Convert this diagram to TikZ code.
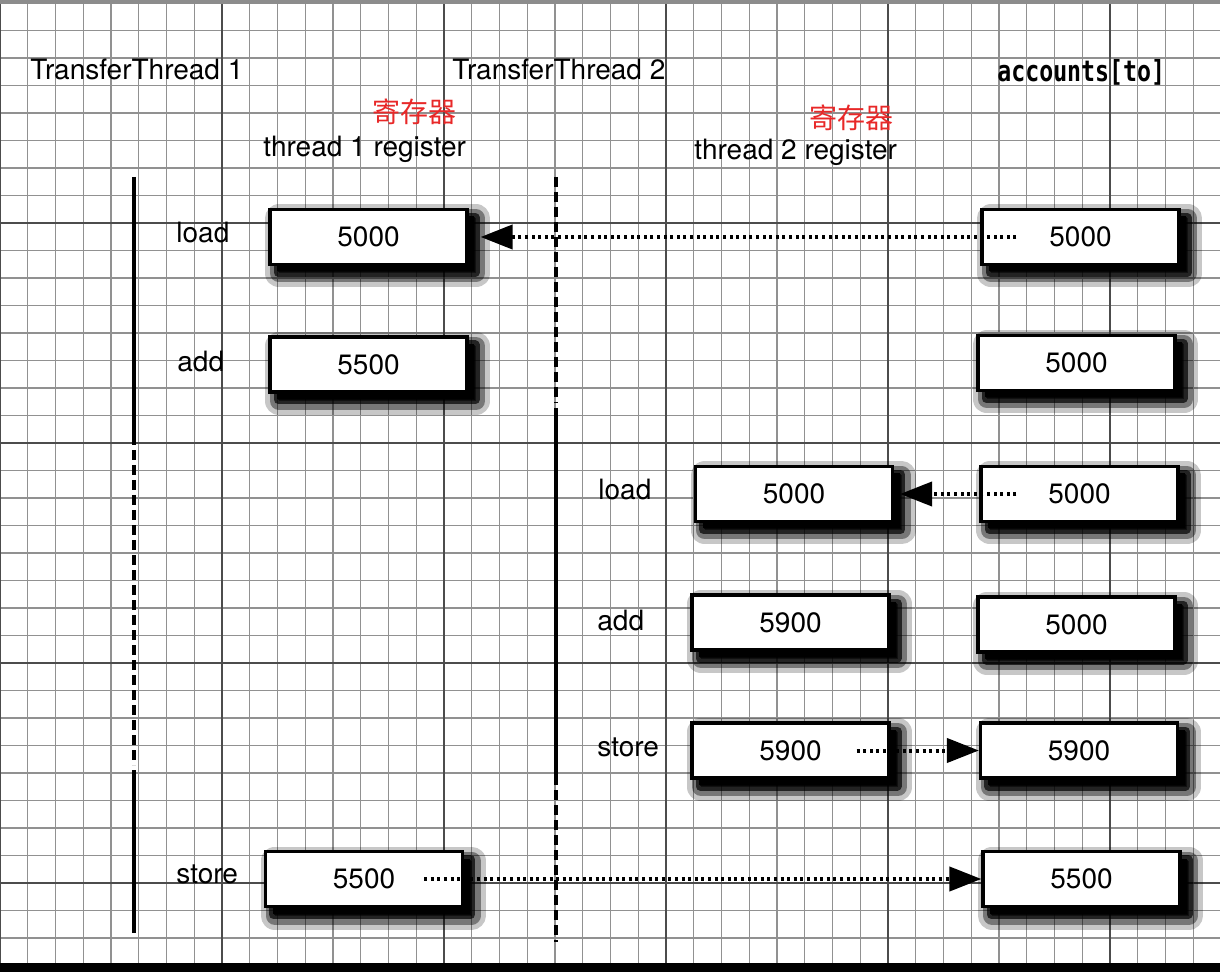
\documentclass[tikz,border=0pt]{standalone}
\usepackage{fontspec}
\setmainfont{TeX Gyre Heros}
\newfontfamily\cjkfont{Noto Sans CJK SC}
\newfontfamily\acctfont{DejaVu Sans Mono}
\usetikzlibrary{arrows.meta,calc,positioning,shadows}
\definecolor{notered}{RGB}{232,40,40}
\definecolor{gridgray}{RGB}{145,145,145}
\tikzset{
  gridminor/.style={gridgray,line width=0.55pt},
  gridmajor/.style={black!70,line width=0.7pt},
  fuzzshadow/.style={
    general shadow={shadow xshift=4.5pt,shadow yshift=-4.5pt,draw=black,fill=black,line width=14pt,line join=round,opacity=0.22},
    general shadow={shadow xshift=4.5pt,shadow yshift=-4.5pt,draw=black,fill=black,line width=9pt,line join=round,opacity=0.4},
    general shadow={shadow xshift=4pt,shadow yshift=-4pt,draw=black,fill=black,line width=4.5pt,line join=round,opacity=0.7},
    general shadow={shadow xshift=3.5pt,shadow yshift=-3.5pt,fill=black,opacity=1}},
  valbox/.style={draw,line width=1.6pt,fill=white,minimum width=98.5pt,minimum height=27.5pt,fuzzshadow},
  oplabel/.style={anchor=base west,inner sep=0pt},
  cnlabel/.style={text=notered,font=\cjkfont\fontsize{14}{16}\selectfont},
  lifeline/.style={line width=1.6pt},
  idle/.style={line width=1.8pt,dash pattern=on 5pt off 2.5pt},
  copyarrow/.style={line width=2pt,dash pattern=on 1.5pt off 1.8pt,-{Triangle[length=16pt,width=12pt]}}
}

\begin{document}
\begin{tikzpicture}[x=0.5pt,y=-0.5pt,font=\fontsize{14}{16}\selectfont]
  \useasboundingbox (0,0) rectangle (1220,972);

  % graph paper
  \foreach \i in {0,...,43} \draw[gridminor] ({\i*27.75},0) -- ({\i*27.75},972);
  \foreach \j in {0,...,35} \draw[gridminor] (0,{3+\j*27.5}) -- (1220,{3+\j*27.5});
  \foreach \i in {0,...,5} \draw[gridmajor] ({\i*222},0) -- ({\i*222},972);
  \foreach \j in {0,...,4} \draw[gridmajor] (0,{3+\j*220}) -- (1220,{3+\j*220});
  \fill[black!45] (0,0) rectangle (1220,4);
  \fill[black] (0,963) rectangle (1220,972);

  % headings
  \node[oplabel] (t1title) at (30,80) {TransferThread 1};
  \node[oplabel] (t2title) at (452,80) {TransferThread 2};
  \node[oplabel,font=\acctfont\bfseries\fontsize{14.5}{16}\selectfont] (acctitle) at (997,82) {\scalebox{0.8}[1]{accounts[to]}};
  \node[cnlabel] (reg1cn) at (414,112) {寄存器};
  \node[cnlabel] (reg2cn) at (851,118) {寄存器};
  \node[oplabel] (reg1title) at (263,157) {thread 1 register};
  \node[oplabel] (reg2title) at (694,160) {thread 2 register};

  % thread 1 runs, waits, runs
  \draw[lifeline] (134,177) -- (134,445);
  \draw[idle] (134,450) -- (134,765);
  \draw[lifeline] (134,770) -- (134,933);
  % thread 2 waits, runs, waits
  \draw[idle] (556,177) -- (556,403);
  \draw[lifeline] (556,408) -- (556,785);
  \draw[idle] (556,790) -- (556,942);

  % operations
  \node[oplabel] (op1load) at (176,243) {load};
  \node[oplabel] (op1add) at (177,372) {add};
  \node[oplabel] (op2load) at (598,500) {load};
  \node[oplabel] (op2add) at (597,630) {add};
  \node[oplabel] (op2store) at (597,756) {store};
  \node[oplabel] (op1store) at (176,883) {store};

  % registers
  \node[valbox] (r1load) at (368.5,237) {5000};
  \node[valbox] (r1add) at (368.5,364.5) {5500};
  \node[valbox] (r2load) at (794,494) {5000};
  \node[valbox] (r2add) at (790.5,622.5) {5900};
  \node[valbox] (r2store) at (790.5,750.5) {5900};
  \node[valbox] (r1store) at (364,879) {5500};

  % accounts[to]
  \node[valbox] (acc1) at (1080.5,237) {5000};
  \node[valbox] (acc2) at (1076.5,363) {5000};
  \node[valbox] (acc3) at (1079.5,494) {5000};
  \node[valbox] (acc4) at (1076.5,624.5) {5000};
  \node[valbox] (acc5) at (1079,750.5) {5900};
  \node[valbox] (acc6) at (1081.5,879) {5500};

  % copies
  \draw[copyarrow,shorten >=6pt] ([xshift=18pt]acc1.west) -- (r1load.east);
  \draw[copyarrow,shorten >=3pt] ([xshift=18.5pt]acc3.west) -- (r2load.east);
  \draw[copyarrow] ([xshift=-17pt]r2store.east) -- (acc5.west);
  \draw[copyarrow] ([xshift=-20pt]r1store.east) -- (acc6.west);
\end{tikzpicture}
\end{document}
